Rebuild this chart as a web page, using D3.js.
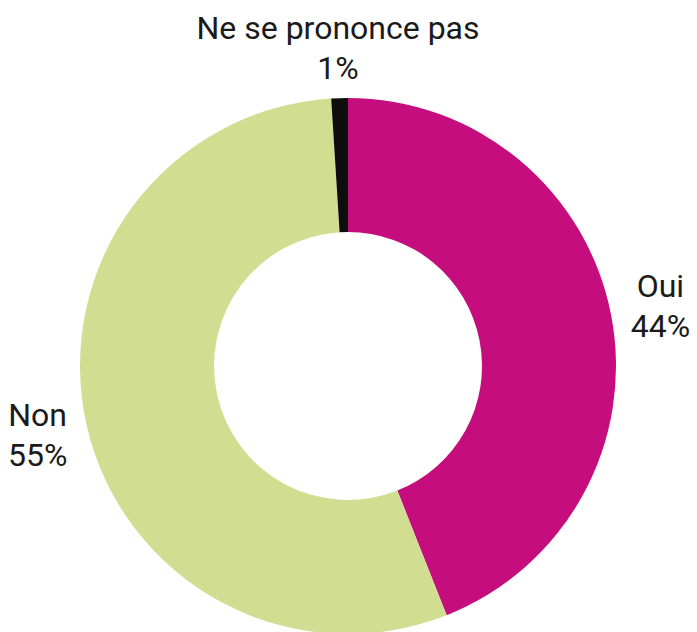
<!DOCTYPE html>
<html>
<head>
<meta charset="utf-8">
<script src="https://cdn.jsdelivr.net/npm/d3@7"></script>
<style>
  html, body { margin: 0; padding: 0; background: #fff; }
  text { font-family: Roboto, "Noto Sans", sans-serif; }
</style>
</head>
<body>
<div id="chart"></div>
<script>
// data
var labels = ["Oui", "Non", "Ne se prononce pas"];
var values = [44, 55, 1];
var colors = ["#c50d7e", "#d1dd90", "#0d0d0d"];

var width = 697,
    height = 632;

var cx = 348, cy = 366;
var outerR = 268, innerR = 134, labelR = 318;

var svg = d3.select("#chart").append("svg")
    .attr("width", width)
    .attr("height", height)
    .append("g")
    .attr("transform", "translate(" + cx + "," + cy + ")");

var data = labels.map(function (d, i) {
    return { label: d, value: values[i], color: colors[i] };
});

var pie = d3.pie()
    .sort(null)
    .value(function (d) { return d.value; });

var arc = d3.arc().innerRadius(innerR).outerRadius(outerR);
var labelArc = d3.arc().innerRadius(labelR).outerRadius(labelR);

var arcs = pie(data);

// slices
svg.selectAll("path.slice")
    .data(arcs)
    .enter().append("path")
    .attr("class", "slice")
    .attr("d", arc)
    .attr("fill", function (d) { return d.data.color; });

// labels: name on the first line, percentage on the second
var lab = svg.selectAll("g.label")
    .data(arcs)
    .enter().append("g")
    .attr("class", "label")
    .attr("transform", function (d) {
        return "translate(" + labelArc.centroid(d) + ")";
    });

lab.append("text")
    .attr("text-anchor", "middle")
    .attr("y", -9)
    .attr("font-size", 32)
    .attr("fill", "#1a1a1a")
    .text(function (d) { return d.data.label; });

lab.append("text")
    .attr("text-anchor", "middle")
    .attr("y", 31)
    .attr("font-size", 32)
    .attr("fill", "#1a1a1a")
    .text(function (d) { return d.data.value + "%"; });
</script>
</body>
</html>
